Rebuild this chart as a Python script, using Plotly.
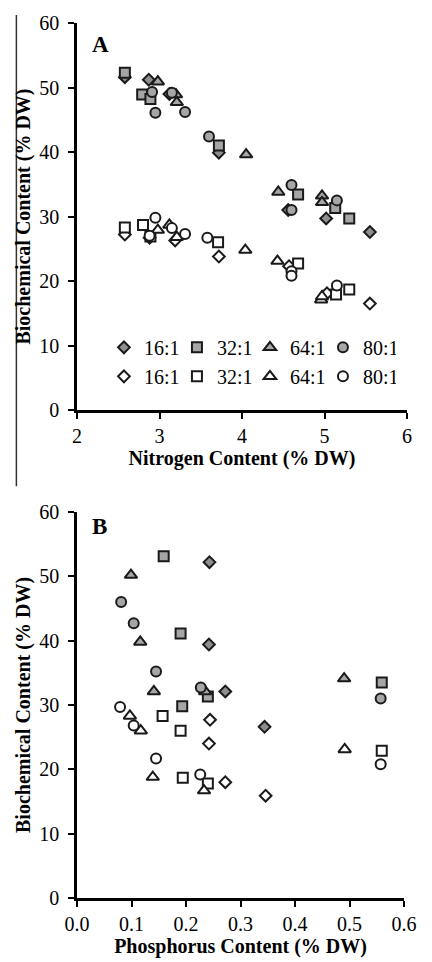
import plotly.graph_objects as go

# ---------------- Panel A data (Nitrogen content, % DW) ----------------
names = ["16:1", "32:1", "64:1", "80:1"]
symbols = ["diamond", "square", "triangle-up", "circle"]

a_n_16_fill = [2.58, 2.87, 3.12, 3.72, 4.56, 5.02, 5.55]
a_v_16_fill = [51.6, 51.2, 49.0, 39.9, 31.0, 29.7, 27.6]
a_n_32_fill = [2.58, 2.79, 2.89, 3.72, 4.68, 5.13, 5.30]
a_v_32_fill = [52.3, 48.9, 48.2, 41.0, 33.4, 31.3, 29.7]
a_n_64_fill = [2.98, 3.20, 3.21, 4.05, 4.44, 4.97, 4.97]
a_v_64_fill = [50.9, 48.9, 47.7, 39.6, 33.8, 33.2, 32.2]
a_n_80_fill = [2.91, 2.95, 3.15, 3.31, 3.60, 4.60, 4.60, 5.15]
a_v_80_fill = [49.3, 46.1, 49.2, 46.2, 42.4, 34.9, 31.0, 32.5]

a_n_16_open = [2.58, 2.88, 3.19, 3.72, 4.57, 5.03, 5.55]
a_v_16_open = [27.2, 26.7, 26.3, 23.8, 22.3, 18.1, 16.5]
a_n_32_open = [2.58, 2.80, 2.89, 3.71, 4.68, 5.14, 5.30]
a_v_32_open = [28.3, 28.7, 26.9, 26.0, 22.7, 17.9, 18.7]
a_n_64_open = [2.98, 3.12, 3.21, 4.04, 4.43, 4.96, 4.97]
a_v_64_open = [27.9, 28.7, 26.8, 24.8, 23.1, 17.1, 17.6]
a_n_80_open = [2.95, 2.88, 3.15, 3.31, 3.58, 4.60, 4.60, 5.15]
a_v_80_open = [29.8, 27.0, 28.2, 27.3, 26.7, 21.5, 20.8, 19.3]

# ---------------- Panel B data (Phosphorus content, % DW) ----------------
b_p_16_fill = [0.243, 0.242, 0.272, 0.344]
b_v_16_fill = [52.2, 39.4, 32.1, 26.6]
b_p_32_fill = [0.159, 0.190, 0.193, 0.240, 0.559]
b_v_32_fill = [53.1, 41.1, 29.8, 31.3, 33.5]
b_p_64_fill = [0.099, 0.116, 0.141, 0.235, 0.490]
b_v_64_fill = [50.2, 39.8, 32.1, 32.1, 34.1]
b_p_80_fill = [0.081, 0.104, 0.145, 0.227, 0.557]
b_v_80_fill = [46.0, 42.7, 35.2, 32.7, 31.0]

b_p_16_open = [0.244, 0.242, 0.272, 0.346]
b_v_16_open = [27.7, 24.0, 18.0, 15.9]
b_p_32_open = [0.157, 0.190, 0.194, 0.240, 0.559]
b_v_32_open = [28.3, 26.0, 18.7, 17.8, 22.9]
b_p_64_open = [0.097, 0.117, 0.139, 0.233, 0.491]
b_v_64_open = [28.3, 26.0, 18.8, 16.7, 23.1]
b_p_80_open = [0.079, 0.104, 0.145, 0.226, 0.557]
b_v_80_open = [29.7, 26.8, 21.7, 19.2, 20.8]

y_ticks = [0, 10, 20, 30, 40, 50, 60]
a_x_ticks = [2, 3, 4, 5, 6]
b_x_ticks = [0.0, 0.1, 0.2, 0.3, 0.4, 0.5, 0.6]

FONT = "Liberation Serif"
EDGE = "#1a1a1a"
FILL = "#a6a6a6"
FILL_D = "#8e8e8e"
sizes = {"diamond": 9, "square": 10, "triangle-up": 11, "circle": 10}

fig = go.Figure()

a_fill = [(a_n_16_fill, a_v_16_fill), (a_n_32_fill, a_v_32_fill),
          (a_n_64_fill, a_v_64_fill), (a_n_80_fill, a_v_80_fill)]
a_open = [(a_n_16_open, a_v_16_open), (a_n_32_open, a_v_32_open),
          (a_n_64_open, a_v_64_open), (a_n_80_open, a_v_80_open)]
b_fill = [(b_p_16_fill, b_v_16_fill), (b_p_32_fill, b_v_32_fill),
          (b_p_64_fill, b_v_64_fill), (b_p_80_fill, b_v_80_fill)]
b_open = [(b_p_16_open, b_v_16_open), (b_p_32_open, b_v_32_open),
          (b_p_64_open, b_v_64_open), (b_p_80_open, b_v_80_open)]


def marker(sym, filled):
    col = (FILL_D if sym == "diamond" else FILL) if filled else "white"
    return dict(symbol=sym, size=sizes[sym], color=col,
                line=dict(color=EDGE, width=2))


# Panel A traces (legend)
for group, filled in ((a_fill, True), (a_open, False)):
    for (xs, ys), nm, sym in zip(group, names, symbols):
        fig.add_trace(go.Scatter(x=xs, y=ys, mode="markers", name=nm,
                                 marker=marker(sym, filled),
                                 xaxis="x", yaxis="y", cliponaxis=False))
# Panel B traces
for group, filled in ((b_fill, True), (b_open, False)):
    for (xs, ys), nm, sym in zip(group, names, symbols):
        fig.add_trace(go.Scatter(x=xs, y=ys, mode="markers", name=nm,
                                 marker=marker(sym, filled), showlegend=False,
                                 xaxis="x2", yaxis="y2", cliponaxis=False))

W, H = 432, 962
L, R, T, B = 77, 12, 19, 59
PW, PH = W - L - R, H - T - B


def px_x(p):
    return (p - L) / PW


def px_y(p):
    return (H - B - p) / PH


axis_common = dict(showgrid=False, zeroline=False, showline=True,
                   linecolor="black", linewidth=2.5, ticks="outside",
                   ticklen=6, tickwidth=2, tickcolor="black",
                   tickfont=dict(family=FONT, size=20, color="black"),
                   mirror=False)
title_font = dict(family=FONT, size=20, color="black")

fig.update_layout(
    width=W, height=H,
    margin=dict(l=L, r=R, t=T, b=B),
    paper_bgcolor="white", plot_bgcolor="white",
    xaxis=dict(axis_common, domain=[0, 1], range=[2, 6], tickvals=a_x_ticks,
               anchor="y", ticklabelstandoff=0,
               title=dict(text="<b>Nitrogen Content (% DW)</b>", font=title_font, standoff=1)),
    yaxis=dict(axis_common, domain=[px_y(410), 1], range=[0, 60], tickvals=y_ticks,
               anchor="x", ticklabelstandoff=5,
               title=dict(text="<b>Biochemical Content (% DW)</b>", font=title_font, standoff=4)),
    xaxis2=dict(axis_common, domain=[0, px_x(417)], range=[0, 0.6], tickvals=b_x_ticks,
                tickformat=".1f", anchor="y2", ticklabelstandoff=0,
                title=dict(text="<b>Phosphorus Content (% DW)</b>", font=title_font, standoff=1)),
    yaxis2=dict(axis_common, domain=[0, px_y(513)], range=[0, 60], tickvals=y_ticks,
                anchor="x2", ticklabelstandoff=5,
                title=dict(text="<b>Biochemical Content (% DW)</b>", font=title_font, standoff=4)),
    showlegend=True,
    legend=dict(orientation="h", x=px_x(105), y=px_y(327), xanchor="left", yanchor="top",
                entrywidth=28, entrywidthmode="pixels",
                font=dict(family=FONT, size=20, color="black"),
                bgcolor="rgba(0,0,0,0)"),
    font=dict(family=FONT, color="black"),
)

fig.add_annotation(text="<b>A</b>", x=px_x(91), y=px_y(41), xref="paper", yref="paper",
                   xanchor="left", yanchor="middle", showarrow=False,
                   font=dict(family=FONT, size=23, color="black"))
fig.add_annotation(text="<b>B</b>", x=px_x(91), y=px_y(528), xref="paper", yref="paper",
                   xanchor="left", yanchor="middle", showarrow=False,
                   font=dict(family=FONT, size=23, color="black"))

fig.add_shape(type="line", xref="paper", yref="paper",
              x0=px_x(14), x1=px_x(14), y0=px_y(487), y1=px_y(11),
              line=dict(color="#333333", width=1.5))

fig.write_html("out.html", config={"displayModeBar": False},
               post_script="document.body.style.margin='0';")
